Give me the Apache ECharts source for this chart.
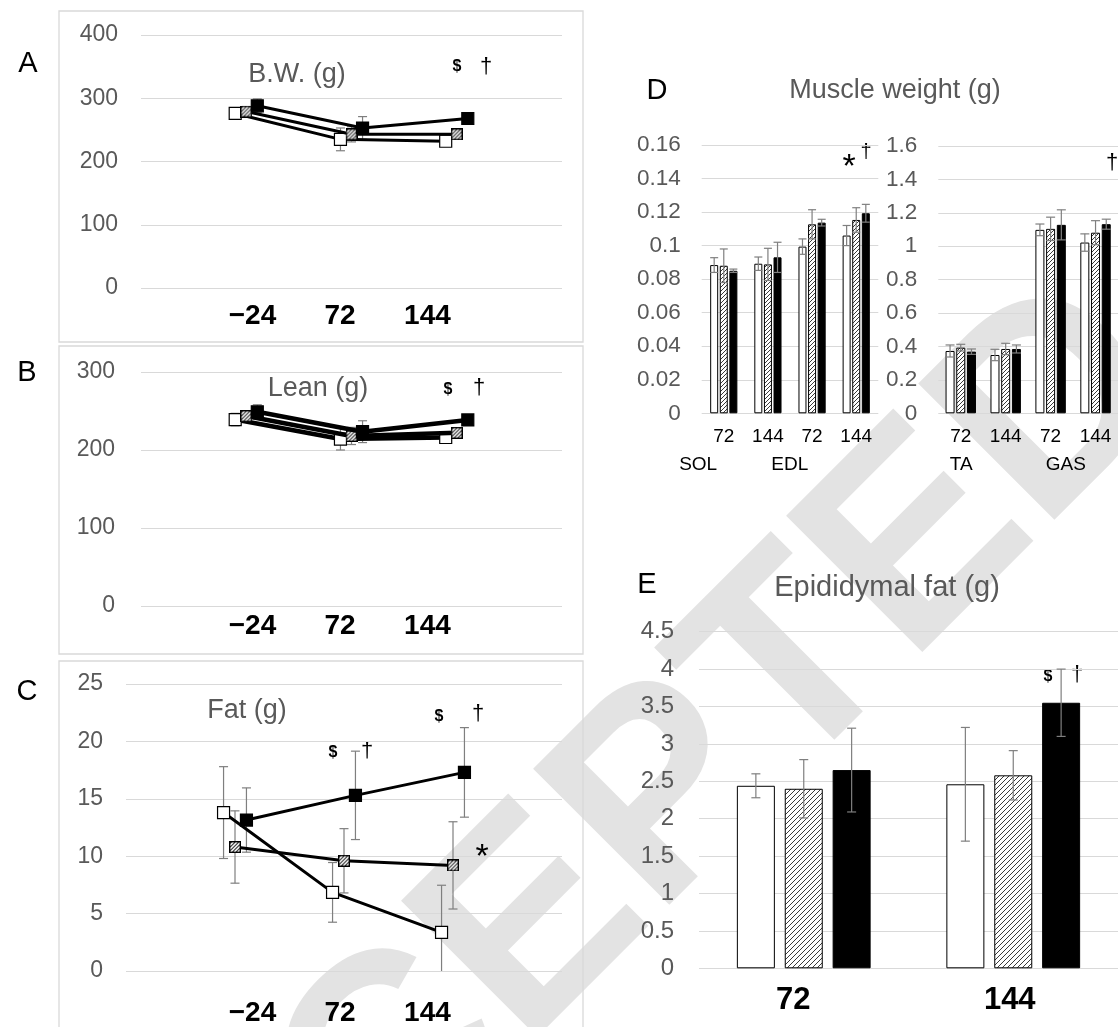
<!DOCTYPE html>
<html>
<head>
<meta charset="utf-8">
<script src="https://cdn.jsdelivr.net/npm/echarts@6/dist/echarts.min.js"></script>
<style>
html, body { margin: 0; padding: 0; background: #fff; }
#chart { width: 1118px; height: 1027px; }
</style>
</head>
<body>
<div id="chart"></div>
<script>
// ---- time course (h): body weight, lean mass, fat mass ----
const timeLabels = ['\u221224', '72', '144'];

const bwOpen = [276, 235, 232];
const bwOpenErr = [9, 18, 6];
const bwHatch = [279, 243, 243];
const bwHatchErr = [8, 12, 5];
const bwFilled = [288, 253, 268];
const bwFilledErr = [11, 18, 6];

const leanOpen = [239, 214, 216];
const leanOpenErr = [8, 14, 5];
const leanHatch = [243.5, 218, 222];
const leanHatchErr = [6, 11, 5];
const leanFilled = [249, 223.5, 238.5];
const leanFilledErr = [9, 14, 4];

const fatOpen = [13.8, 6.85, 3.37];
const fatOpenErr = [4.0, 2.6, 4.1];
const fatHatch = [10.8, 9.6, 9.2];
const fatHatchErr = [3.15, 2.8, 3.8];
const fatFilled = [13.15, 15.3, 17.3];
const fatFilledErr = [2.8, 3.85, 3.9];

// ---- muscle weight (g) ----
const muscleTicks = ['72', '144', '72', '144'];
const smallMuscles = ['SOL', 'EDL'];
const largeMuscles = ['TA', 'GAS'];

const solEdlOpen = [0.0884, 0.0892, 0.0994, 0.106];
const solEdlOpenErr = [0.0044, 0.004, 0.0046, 0.006];
const solEdlHatch = [0.088, 0.0888, 0.1127, 0.1153];
const solEdlHatchErr = [0.010, 0.0096, 0.0087, 0.0073];
const solEdlFilled = [0.085, 0.093, 0.1137, 0.1193];
const solEdlFilledErr = [0.001, 0.009, 0.002, 0.0053];

const taGasOpen = [0.373, 0.349, 1.098, 1.022];
const taGasOpenErr = [0.036, 0.034, 0.035, 0.052];
const taGasHatch = [0.393, 0.385, 1.104, 1.081];
const taGasHatchErr = [0.02, 0.034, 0.07, 0.072];
const taGasFilled = [0.369, 0.385, 1.128, 1.132];
const taGasFilledErr = [0.016, 0.024, 0.09, 0.03];

// ---- epididymal fat (g) ----
const fatTicks = ['72', '144'];
const epiOpen = [2.44, 2.46];
const epiOpenErr = [0.16, 0.76];
const epiHatch = [2.40, 2.58];
const epiHatchErr = [0.39, 0.33];
const epiFilled = [2.65, 3.55];
const epiFilledErr = [0.56, 0.45];

// ---------------------------------------------------------------
const FONT = "'Liberation Sans', Arial, sans-serif";
const GRID_GRAY = '#d9d9d9';
const LABEL_GRAY = '#595959';
const ERR_GRAY = '#7f7f7f';

function hatchPattern(step) {
  const c = document.createElement('canvas');
  c.width = step; c.height = step;
  const g = c.getContext('2d');
  g.fillStyle = '#fff';
  g.fillRect(0, 0, step, step);
  g.strokeStyle = '#3a3a3a';
  g.lineWidth = 1;
  g.beginPath();
  g.moveTo(0, step); g.lineTo(step, 0);
  g.moveTo(-1, 1); g.lineTo(1, -1);
  g.moveTo(step - 1, step + 1); g.lineTo(step + 1, step - 1);
  g.stroke();
  return { image: c, repeat: 'repeat' };
}
const hatchFine = hatchPattern(4);
const hatchWide = hatchPattern(5);

// square marker with diagonal hatching and a black outline
function hatchedSquareSymbol(size) {
  const k = 4;
  const n = size * k;
  const c = document.createElement('canvas');
  c.width = n; c.height = n;
  const g = c.getContext('2d');
  g.fillStyle = '#fff';
  g.fillRect(0, 0, n, n);
  g.strokeStyle = '#333';
  g.lineWidth = 1.1 * k;
  g.beginPath();
  for (let d = -n; d < 2 * n; d += 3.6 * k) {
    g.moveTo(d, n); g.lineTo(d + n, 0);
  }
  g.stroke();
  g.strokeStyle = '#000';
  g.lineWidth = 1.4 * k;
  g.strokeRect(0.7 * k, 0.7 * k, n - 1.4 * k, n - 1.4 * k);
  return 'image://' + c.toDataURL();
}
const hatchedMarker = hatchedSquareSymbol(12);

const chart = echarts.init(document.getElementById('chart'), null, { renderer: 'canvas' });

const grids = [];
const xAxes = [];
const yAxes = [];
const series = [];

function addGrid(g) { grids.push(g); return grids.length - 1; }

function valueY(gi, max, interval, fontSize, margin, fmt) {
  yAxes.push({
    gridIndex: gi, type: 'value', min: 0, max: max, interval: interval,
    axisLine: { show: false }, axisTick: { show: false },
    splitLine: { lineStyle: { color: GRID_GRAY, width: 1 } },
    axisLabel: { color: LABEL_GRAY, fontSize: fontSize, fontFamily: FONT, margin: margin, formatter: fmt }
  });
  return yAxes.length - 1;
}
function hiddenY(gi) {
  yAxes.push({ gridIndex: gi, type: 'value', show: false });
  return yAxes.length - 1;
}
function hiddenValueX(gi, min, max) {
  xAxes.push({ gridIndex: gi, type: 'value', min: min, max: max, show: false });
  return xAxes.length - 1;
}
function categoryX(gi, labels, labelStyle, margin) {
  xAxes.push({
    gridIndex: gi, type: 'category', data: labels,
    axisLine: { show: false }, axisTick: { show: false }, splitLine: { show: false },
    axisLabel: Object.assign({ margin: margin, verticalAlign: 'middle', interval: 0, fontFamily: FONT, color: '#000' }, labelStyle)
  });
  return xAxes.length - 1;
}
// row of tick text centred on a given line, spread over a given span
function labelRow(left, width, centerY, labels, labelStyle) {
  const gi = addGrid({ left: left, width: width, top: centerY - 1, height: 1 });
  categoryX(gi, labels, labelStyle, 0);
  hiddenY(gi);
}

function errorBars(xi, yi, means, errs, xValue, pxShift, capHalf, floor) {
  return {
    type: 'custom', xAxisIndex: xi, yAxisIndex: yi, z: 3, silent: true,
    data: means.map(function (m, i) { return [i, m, errs[i]]; }),
    renderItem: function (params, api) {
      const i = api.value(0), m = api.value(1), e = api.value(2);
      const xv = xValue(i);
      const lowVal = Math.max(m - e, floor);
      const hi = api.coord([xv, m + e]);
      const lo = api.coord([xv, lowVal]);
      const x = hi[0] + pxShift;
      const st = { stroke: ERR_GRAY, lineWidth: 1.2 };
      const kids = [
        { type: 'line', shape: { x1: x, y1: hi[1], x2: x, y2: lo[1] }, style: st },
        { type: 'line', shape: { x1: x - capHalf, y1: hi[1], x2: x + capHalf, y2: hi[1] }, style: st }
      ];
      if (m - e >= floor) {
        kids.push({ type: 'line', shape: { x1: x - capHalf, y1: lo[1], x2: x + capHalf, y2: lo[1] }, style: st });
      }
      return { type: 'group', children: kids };
    }
  };
}

// ---------- line panels (A, B, C) ----------
const SHIFT = 0.105;
function linePanel(grid, max, interval, yMargin, sets, lineWidth) {
  const gi = addGrid(grid);
  const xi = hiddenValueX(gi, -1, 3);
  const yi = valueY(gi, max, interval, 23, yMargin);
  const offsets = [-SHIFT, 0, SHIFT];
  sets.forEach(function (s, k) {
    const xv = function (i) { return i + offsets[k]; };
    series.push(errorBars(xi, yi, s.mean, s.err, xv, 0, 4.5, 0));
  });
  const looks = [
    { symbol: 'rect', itemStyle: { color: '#fff', borderColor: '#000', borderWidth: 1.2 } },
    { symbol: hatchedMarker, itemStyle: { color: '#fff', borderColor: '#000', borderWidth: 0 } },
    { symbol: 'rect', itemStyle: { color: '#000', borderColor: '#000', borderWidth: 1.2 } }
  ];
  sets.forEach(function (s, k) {
    series.push({
      type: 'line', xAxisIndex: xi, yAxisIndex: yi, z: 4 + k,
      data: s.mean.map(function (v, i) { return [i + offsets[k], v]; }),
      symbol: looks[k].symbol, symbolSize: 12, showSymbol: true,
      lineStyle: { color: '#000', width: lineWidth },
      itemStyle: looks[k].itemStyle,
      emphasis: { disabled: true }, animation: false
    });
  });
}

linePanel({ left: 141, width: 421, top: 35, height: 253 }, 400, 100, 23, [
  { mean: bwOpen, err: bwOpenErr },
  { mean: bwHatch, err: bwHatchErr },
  { mean: bwFilled, err: bwFilledErr }
], 3);
linePanel({ left: 141, width: 421, top: 372, height: 234 }, 300, 100, 26, [
  { mean: leanOpen, err: leanOpenErr },
  { mean: leanHatch, err: leanHatchErr },
  { mean: leanFilled, err: leanFilledErr }
], 4.5);
linePanel({ left: 126, width: 436, top: 684, height: 287 }, 25, 5, 23, [
  { mean: fatOpen, err: fatOpenErr },
  { mean: fatHatch, err: fatHatchErr },
  { mean: fatFilled, err: fatFilledErr }
], 3);

const timeLabelStyle = { fontSize: 28, fontWeight: 'bold' };
labelRow(208.7, 262.5, 316.7, timeLabels, timeLabelStyle);
labelRow(208.7, 262.5, 626.7, timeLabels, timeLabelStyle);
labelRow(208.7, 262.5, 1013.3, timeLabels, timeLabelStyle);

// ---------- bar panels (D, E) ----------
function barPanel(grid, max, interval, yFont, yMargin, ticks, tickStyle, tickMargin, sets, barWidth, gapRatio, capHalf, hatch, fmt) {
  const gi = addGrid(grid);
  const xi = categoryX(gi, ticks, tickStyle, tickMargin);
  const yi = valueY(gi, max, interval, yFont, yMargin, fmt);
  const pitch = barWidth * (1 + gapRatio);
  const fills = ['#fff', hatch, '#000'];
  sets.forEach(function (s, k) {
    series.push({
      type: 'bar', xAxisIndex: xi, yAxisIndex: yi, z: 2,
      data: s.mean, barWidth: barWidth, barGap: (gapRatio * 100) + '%',
      itemStyle: { color: fills[k], borderColor: '#000', borderWidth: 1 },
      emphasis: { disabled: true }, animation: false
    });
  });
  sets.forEach(function (s, k) {
    series.push(errorBars(xi, yi, s.mean, s.err, function (i) { return i; }, (k - 1) * pitch, capHalf, 0));
  });
}

const decimalFmt = function (v) { return String(+Number(v).toFixed(2)); };
const muscleTickStyle = { fontSize: 19 };

barPanel({ left: 701.7, width: 176.6, top: 145, height: 268.3 }, 0.16, 0.02, 22.5, 21,
  muscleTicks, muscleTickStyle, 23.4, [
    { mean: solEdlOpen, err: solEdlOpenErr },
    { mean: solEdlHatch, err: solEdlHatchErr },
    { mean: solEdlFilled, err: solEdlFilledErr }
  ], 8, 0.2, 4, hatchFine, decimalFmt);

barPanel({ left: 938.3, width: 189.6, top: 146, height: 267.3 }, 1.6, 0.2, 22.5, 21,
  muscleTicks, muscleTickStyle, 23.4, [
    { mean: taGasOpen, err: taGasOpenErr },
    { mean: taGasHatch, err: taGasHatchErr },
    { mean: taGasFilled, err: taGasFilledErr }
  ], 9, 0.19, 4.5, hatchFine, decimalFmt);

labelRow(652.3, 183.4, 465, smallMuscles, muscleTickStyle);
labelRow(909, 232, 465, largeMuscles, muscleTickStyle);

barPanel({ left: 699, width: 428, top: 631.7, height: 336.6 }, 4.5, 0.5, 24, 25,
  fatTicks, { show: false }, 0, [
    { mean: epiOpen, err: epiOpenErr },
    { mean: epiHatch, err: epiHatchErr },
    { mean: epiFilled, err: epiFilledErr }
  ], 38, 0.26, 4.5, hatchWide, decimalFmt);

labelRow(685, 446.6, 1000, fatTicks, { fontSize: 31, fontWeight: 'bold' });

// ---------- frames, panel letters, titles, significance marks ----------
function txt(x, y, s, size, opts) {
  return Object.assign({
    type: 'text', x: x, y: y, silent: true,
    style: Object.assign({ text: s, fill: '#000', font: size + 'px ' + FONT, align: 'center', verticalAlign: 'middle' }, (opts && opts.style) || {})
  }, (opts && opts.el) || {});
}
function frame(y, h) {
  return { type: 'rect', silent: true, shape: { x: 59, y: y, width: 524, height: h },
    style: { fill: 'none', stroke: GRID_GRAY, lineWidth: 1.3 } };
}
const gray = { style: { fill: LABEL_GRAY } };
const boldDollar = { style: { font: 'bold 16px ' + FONT } };
const graphics = [
  { type: 'text', x: 585, y: 880, rotation: Math.PI / 4, z: -10, silent: true,
    style: { text: 'ACCEPTED', fill: '#e3e3e3', font: 'bold 280px ' + FONT, align: 'center', verticalAlign: 'middle' } },
  frame(11, 331), frame(346, 308), frame(661, 400),
  txt(28, 64, 'A', 29), txt(27, 373, 'B', 29), txt(27, 692, 'C', 29),
  txt(657, 91, 'D', 29), txt(647, 585, 'E', 29),
  txt(297, 75, 'B.W. (g)', 27, gray),
  txt(318, 389, 'Lean (g)', 27, gray),
  txt(247, 711, 'Fat (g)', 27, gray),
  txt(895, 91, 'Muscle weight (g)', 27, gray),
  txt(887, 588, 'Epididymal fat (g)', 29, gray),
  // significance marks
  txt(457, 67, '$', 16, boldDollar), txt(486, 67, '\u2020', 22),
  txt(448, 390, '$', 16, boldDollar), txt(479, 388, '\u2020', 22),
  txt(333, 753, '$', 16, boldDollar), txt(367, 751, '\u2020', 22),
  txt(439, 717, '$', 16, boldDollar), txt(478, 714, '\u2020', 22),
  txt(482, 858, '*', 34),
  txt(849, 168, '*', 34), txt(866, 152, '\u2020', 20),
  txt(1112, 163, '\u2020', 22),
  txt(1048, 677, '$', 16, boldDollar), txt(1077, 675, '\u2020', 22)
];

chart.setOption({
  animation: false,
  backgroundColor: '#fff',
  grid: grids,
  xAxis: xAxes,
  yAxis: yAxes,
  series: series,
  graphic: graphics
});
</script>
</body>
</html>
